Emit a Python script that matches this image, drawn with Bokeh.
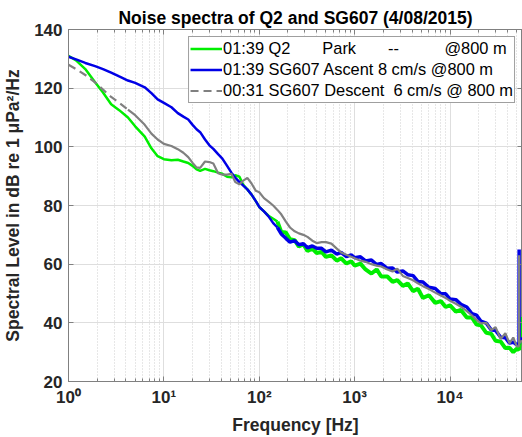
from bokeh.plotting import figure
from bokeh.models import (FixedTicker, LinearAxis, LogAxis, Range1d, Legend,
                          LegendItem, ColumnDataSource)
from bokeh.embed import file_html
from bokeh.resources import INLINE

# ---------------- data ----------------
freq = [1, 1.2, 1.5, 1.9, 2.3, 2.8, 3.4, 4.2, 5, 6.3, 7.4, 8.6, 10, 12, 14, 16,
        18, 20, 22, 24, 27, 30, 33, 37, 41, 46, 51, 56, 62, 68, 75, 83, 92,
        100, 112, 125, 140, 155, 170, 190, 210, 235, 260, 290, 320, 360, 400,
        450, 500, 570, 650, 720, 820, 920, 1000, 1150, 1300, 1500, 1700, 1900,
        2200, 2500, 2800, 3200, 3600, 4100, 4600, 5200, 6000, 7000, 8000, 9000,
        10000, 11500, 13000, 15000, 17000, 19000, 21000, 24000, 27000, 30000,
        34000, 38000, 42000, 46000, 50000, 52900, 53000, 53100, 55000, 57000]

q2_park = [131, 129.5, 126.5, 122, 118.5, 114.5, 112.5, 110, 107, 103.5, 99.5,
           96.8, 95.8, 95.4, 95.6, 95.0, 94.5, 93.5, 92.3, 91.8, 92.5, 92.0,
           91.7, 91.2, 90.8, 89.8, 89.6, 90.3, 89.8, 87, 85.5, 83.7, 81.5,
           79.5, 78, 76.5, 75.5, 74.5, 71, 70.8, 68.5, 68.2, 66, 66.8, 64.5,
           65.3, 63.8, 64.2, 62.5, 63, 61.2, 62, 60.2, 61, 59.5, 60.2, 58.2,
           56.8, 58.2, 55.8, 55.8, 54, 54.6, 52.6, 53.4, 50.8, 51.6, 48.5,
           49.4, 46.8, 47.4, 45.4, 46, 43.8, 44.4, 41.8, 41.8, 39.4, 39.2,
           36.6, 36.3, 33.9, 33.6, 31.4, 31.5, 30, 31.2, 30.8, 31.5, 31.5,
           36, 42]

sg_ascent = [130.7, 129.8, 128.6, 127.5, 126.5, 125.3, 124, 122.6, 121.8,
             120.3, 118.3, 116.2, 115, 113.5, 111.5, 110.3, 109.3, 107.5, 106,
             105, 102.5, 100.5, 99.3, 97.5, 96, 93.5, 91.2, 89.5, 88, 86.8,
             85.5, 83.7, 81.5, 79.5, 78, 76.3, 74, 72.5, 70.3, 68.8, 67.5, 68,
             66.6, 67, 65.6, 66.2, 65.4, 65.4, 64.2, 64.8, 63.4, 64, 62.6, 63.2,
             62.2, 62.5, 61.1, 61.4, 59.9, 60.2, 58.6, 58.7, 57.3, 57.7, 56.4,
             56.1, 54.1, 53.9, 52.1, 51.7, 49.9, 49.9, 48.1, 47.9, 46.3, 45.4,
             43.1, 42.6, 40.6, 39.9, 37.6, 37.4, 35.1, 34.9, 33.1, 33.4, 32.5,
             33, 65, 33.5, 34, 35]

sg_descent = [128, 126.5, 124.5, 122, 119.5, 117, 115, 112.7, 110.8, 107.5,
              104.5, 102.5, 101, 100.3, 99.2, 98, 96.5, 94.5, 93, 92.8, 95,
              94.8, 94.3, 91, 90.5, 90.5, 90.8, 88, 87.2, 88.5, 89.4, 87.5, 85,
              84.5, 82.5, 81.3, 80, 78.5, 77, 74.5, 72.5, 71.2, 70.5, 70, 69.3,
              68, 67.2, 67.5, 67.5, 67, 65.3, 64, 63.2, 62.5, 62, 61.2, 60.8,
              60, 59.5, 59.2, 58.2, 57.5, 58.5, 56, 55.3, 54.5, 53.5, 52.5,
              51.5, 50.3, 49.3, 48.5, 47.5, 46.5, 45.5, 44, 42.5, 41, 39.8, 40,
              37.5, 38.5, 34.5, 36.5, 33, 35, 32, 32, 63, 33, 33.5, 34]

labels = ["01:39 Q2\u00a0\u00a0\u00a0\u00a0\u00a0\u00a0\u00a0Park\u00a0\u00a0\u00a0\u00a0\u00a0\u00a0\u00a0--\u00a0\u00a0\u00a0\u00a0\u00a0\u00a0\u00a0\u00a0\u00a0\u00a0@800 m",
          "01:39 SG607 Ascent 8 cm/s @800 m",
          "00:31 SG607 Descent\u00a0\u00a06 cm/s @ 800 m"]

major_ticks = [1, 10, 100, 1000, 10000]
tick_labels = {1: "10\u2070", 10: "10\u00b9", 100: "10\u00b2", 1000: "10\u00b3",
               10000: "10\u2074"}
y_ticks = [20, 40, 60, 80, 100, 120, 140]

# ---------------- figure ----------------
FONT = "Liberation Sans"
TXT = "#262626"
AX = "#808080"

p = figure(width=522, height=437, x_axis_type="log",
           x_range=Range1d(1, 57500), y_range=Range1d(20, 140),
           output_backend="svg", toolbar_location=None,
           min_border_left=67, min_border_right=0, min_border_top=29,
           min_border_bottom=56, background_fill_color="white",
           border_fill_color="white", outline_line_color=AX)

p.title.text = "Noise spectra of Q2 and SG607 (4/08/2015)"
p.title.align = "center"
p.title.text_font = FONT
p.title.text_font_size = "17.5px"
p.title.text_font_style = "bold"
p.title.text_color = "black"
p.title.standoff = 4

minor = [m * 10 ** d for d in range(0, 5) for m in range(2, 10)]
xticker = FixedTicker(ticks=major_ticks, minor_ticks=minor)
yticker = FixedTicker(ticks=y_ticks, minor_ticks=[])

def style_axis(ax, show_labels=True):
    ax.axis_line_color = AX
    ax.major_tick_line_color = AX
    ax.minor_tick_line_color = AX
    ax.major_tick_in = 5
    ax.major_tick_out = 0
    ax.minor_tick_in = 3
    ax.minor_tick_out = 0
    ax.major_label_text_font = FONT
    ax.major_label_text_font_style = "bold"
    ax.major_label_text_color = TXT
    ax.axis_label_text_font = FONT
    ax.axis_label_text_font_style = "bold"
    ax.axis_label_text_color = TXT
    ax.axis_label_text_font_size = "17.5px"
    if show_labels:
        ax.major_label_text_font_size = "17px"
    else:
        ax.major_label_text_font_size = "0px"
        ax.major_label_standoff = 0

xa = p.xaxis[0]
xa.ticker = xticker
xa.major_label_overrides = tick_labels
xa.axis_label = "Frequency [Hz]"
style_axis(xa)
xa.major_label_standoff = 6
xa.axis_label_standoff = 5

ya = p.yaxis[0]
ya.ticker = yticker
ya.axis_label = "Spectral Level in dB re 1 \u03bcPa\u00b2/Hz"
style_axis(ya)
ya.minor_tick_line_color = None
ya.major_label_standoff = 6
ya.axis_label_standoff = 8

top = LogAxis(ticker=xticker)
style_axis(top, False)
top.major_label_overrides = {t: "" for t in major_ticks}
p.add_layout(top, "above")

right = LinearAxis(ticker=yticker)
style_axis(right, False)
right.minor_tick_line_color = None
right.major_label_overrides = {t: "" for t in y_ticks}
p.add_layout(right, "right")

p.xgrid.ticker = xticker
p.xgrid.grid_line_color = "#dedede"
p.xgrid.minor_grid_line_color = "#cfcfcf"
p.xgrid.minor_grid_line_dash = "1 2"
p.ygrid.ticker = yticker
p.ygrid.grid_line_color = "#dedede"

# ---------------- lines ----------------
GREEN = "#00ee00"
BLUE = "#0000e6"
GRAY = "#808080"

cut = freq.index(4.2) + 1          # gray dashes visible only at low frequency
noisy = freq.index(155)            # dense, noisy part of the spectra drawn thicker

lo = ColumnDataSource(dict(f=freq[:noisy + 1], g=q2_park[:noisy + 1],
                           b=sg_ascent[:noisy + 1]))
hi = ColumnDataSource(dict(f=freq[noisy:], g=q2_park[noisy:],
                           b=sg_ascent[noisy:]))
src_dash = ColumnDataSource(dict(f=freq[:cut], d=sg_descent[:cut]))
src_solid = ColumnDataSource(dict(f=freq[cut - 1:], d=sg_descent[cut - 1:]))

r_g = p.line("f", "g", source=lo, line_color=GREEN, line_width=2.5)
p.line("f", "g", source=hi, line_color=GREEN, line_width=4)
r_b = p.line("f", "b", source=lo, line_color=BLUE, line_width=2.5)
p.line("f", "b", source=hi, line_color=BLUE, line_width=3.5)
r_d = p.line("f", "d", source=src_dash, line_color=GRAY, line_width=2.2,
             line_dash="8 5")
p.line("f", "d", source=src_solid, line_color=GRAY, line_width=2.2)

legend = Legend(items=[LegendItem(label=labels[0], renderers=[r_g]),
                       LegendItem(label=labels[1], renderers=[r_b]),
                       LegendItem(label=labels[2], renderers=[r_d])],
                location="top_right")
legend.label_text_font = FONT
legend.label_text_font_size = "16.4px"
legend.label_text_color = "black"
legend.border_line_color = "#404040"
legend.border_line_width = 1
legend.background_fill_alpha = 1
legend.glyph_width = 32
legend.glyph_height = 21
legend.label_height = 21
legend.label_standoff = 1
legend.spacing = 0
legend.padding = 1
legend.margin = 7
p.add_layout(legend)

open("out.html", "w").write(file_html(p, INLINE))
